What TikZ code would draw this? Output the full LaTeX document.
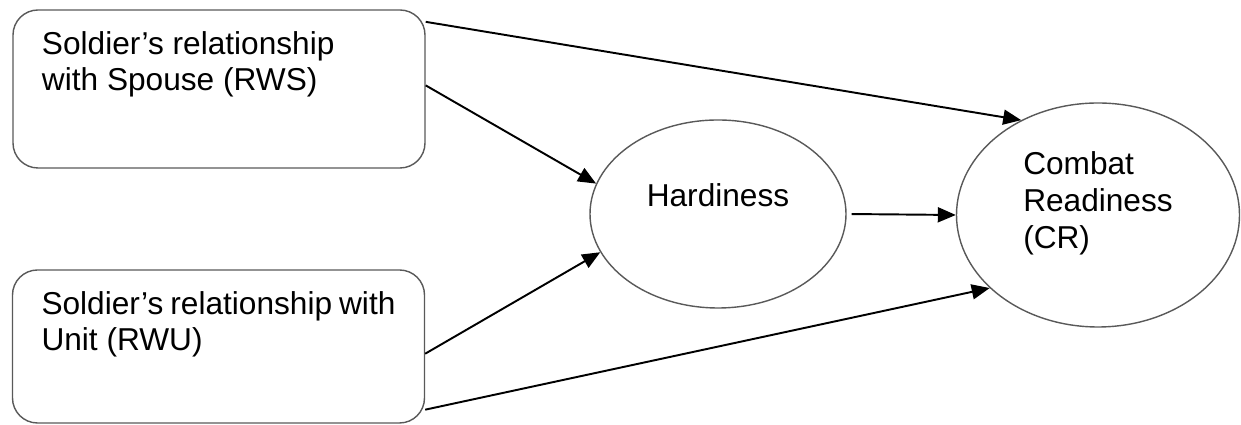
\documentclass[tikz,border=0pt]{standalone}
\usepackage{fontspec}
\setmainfont{Liberation Sans}
\usepackage{xcolor}
\usepackage{tikz}
\usetikzlibrary{arrows.meta, shapes.geometric, calc}

\newcommand{\boxtext}[2]{%
  \begin{minipage}[t][#1][t]{7.08cm}#2\end{minipage}}

\begin{document}
\begin{tikzpicture}[
  box/.style={
    rectangle,
    draw=black!65,
    line width=0.8pt,
    rounded corners=0.5cm,
    inner xsep=0.58cm,
    inner ysep=0.44cm,
    font=\fontsize{18}{20.5}\selectfont
  },
  oval/.style={
    ellipse,
    draw=black!65,
    line width=0.8pt,
    inner sep=0pt,
    font=\fontsize{18}{21}\selectfont
  },
  arrow/.style={-{Triangle[length=0.36cm, width=0.3cm]}, line width=1.1pt}
]

\useasboundingbox (0,0) rectangle (24.82,8.5);

% Relacion con la pareja (arriba izquierda)
\node[box] (rws) at (4.38, 6.72) {%
  \boxtext{2.28cm}{Soldier’s relationship\\with Spouse (RWS)}
};

% Relacion con la unidad (abajo izquierda)
\node[box] (rwu) at (4.37, 1.57) {%
  \boxtext{2.18cm}{Soldier’s relationship with\\Unit (RWU)}
};

% Mediador
\node[oval, minimum width=5.12cm, minimum height=3.76cm,
      text depth=0.76cm] (hard) at (14.36, 4.22) {Hardiness};

% Resultado
\node[oval, minimum width=5.66cm, minimum height=4.48cm,
      align=left, text depth=0.6cm] (cr) at (21.96, 4.2) {%
  Combat\\Readiness\\(CR)
};

% Relaciones
\draw[arrow] (rws.18) -- (cr.129);
\draw[arrow] (rws.1) -- (hard.166);
\draw[arrow] (rwu.-2) -- (hard.198);
\draw[arrow] (rwu.-17) -- (cr.214);
\draw[arrow, shorten <=0.1cm] (hard.east) -- (cr.west);

\end{tikzpicture}
\end{document}
